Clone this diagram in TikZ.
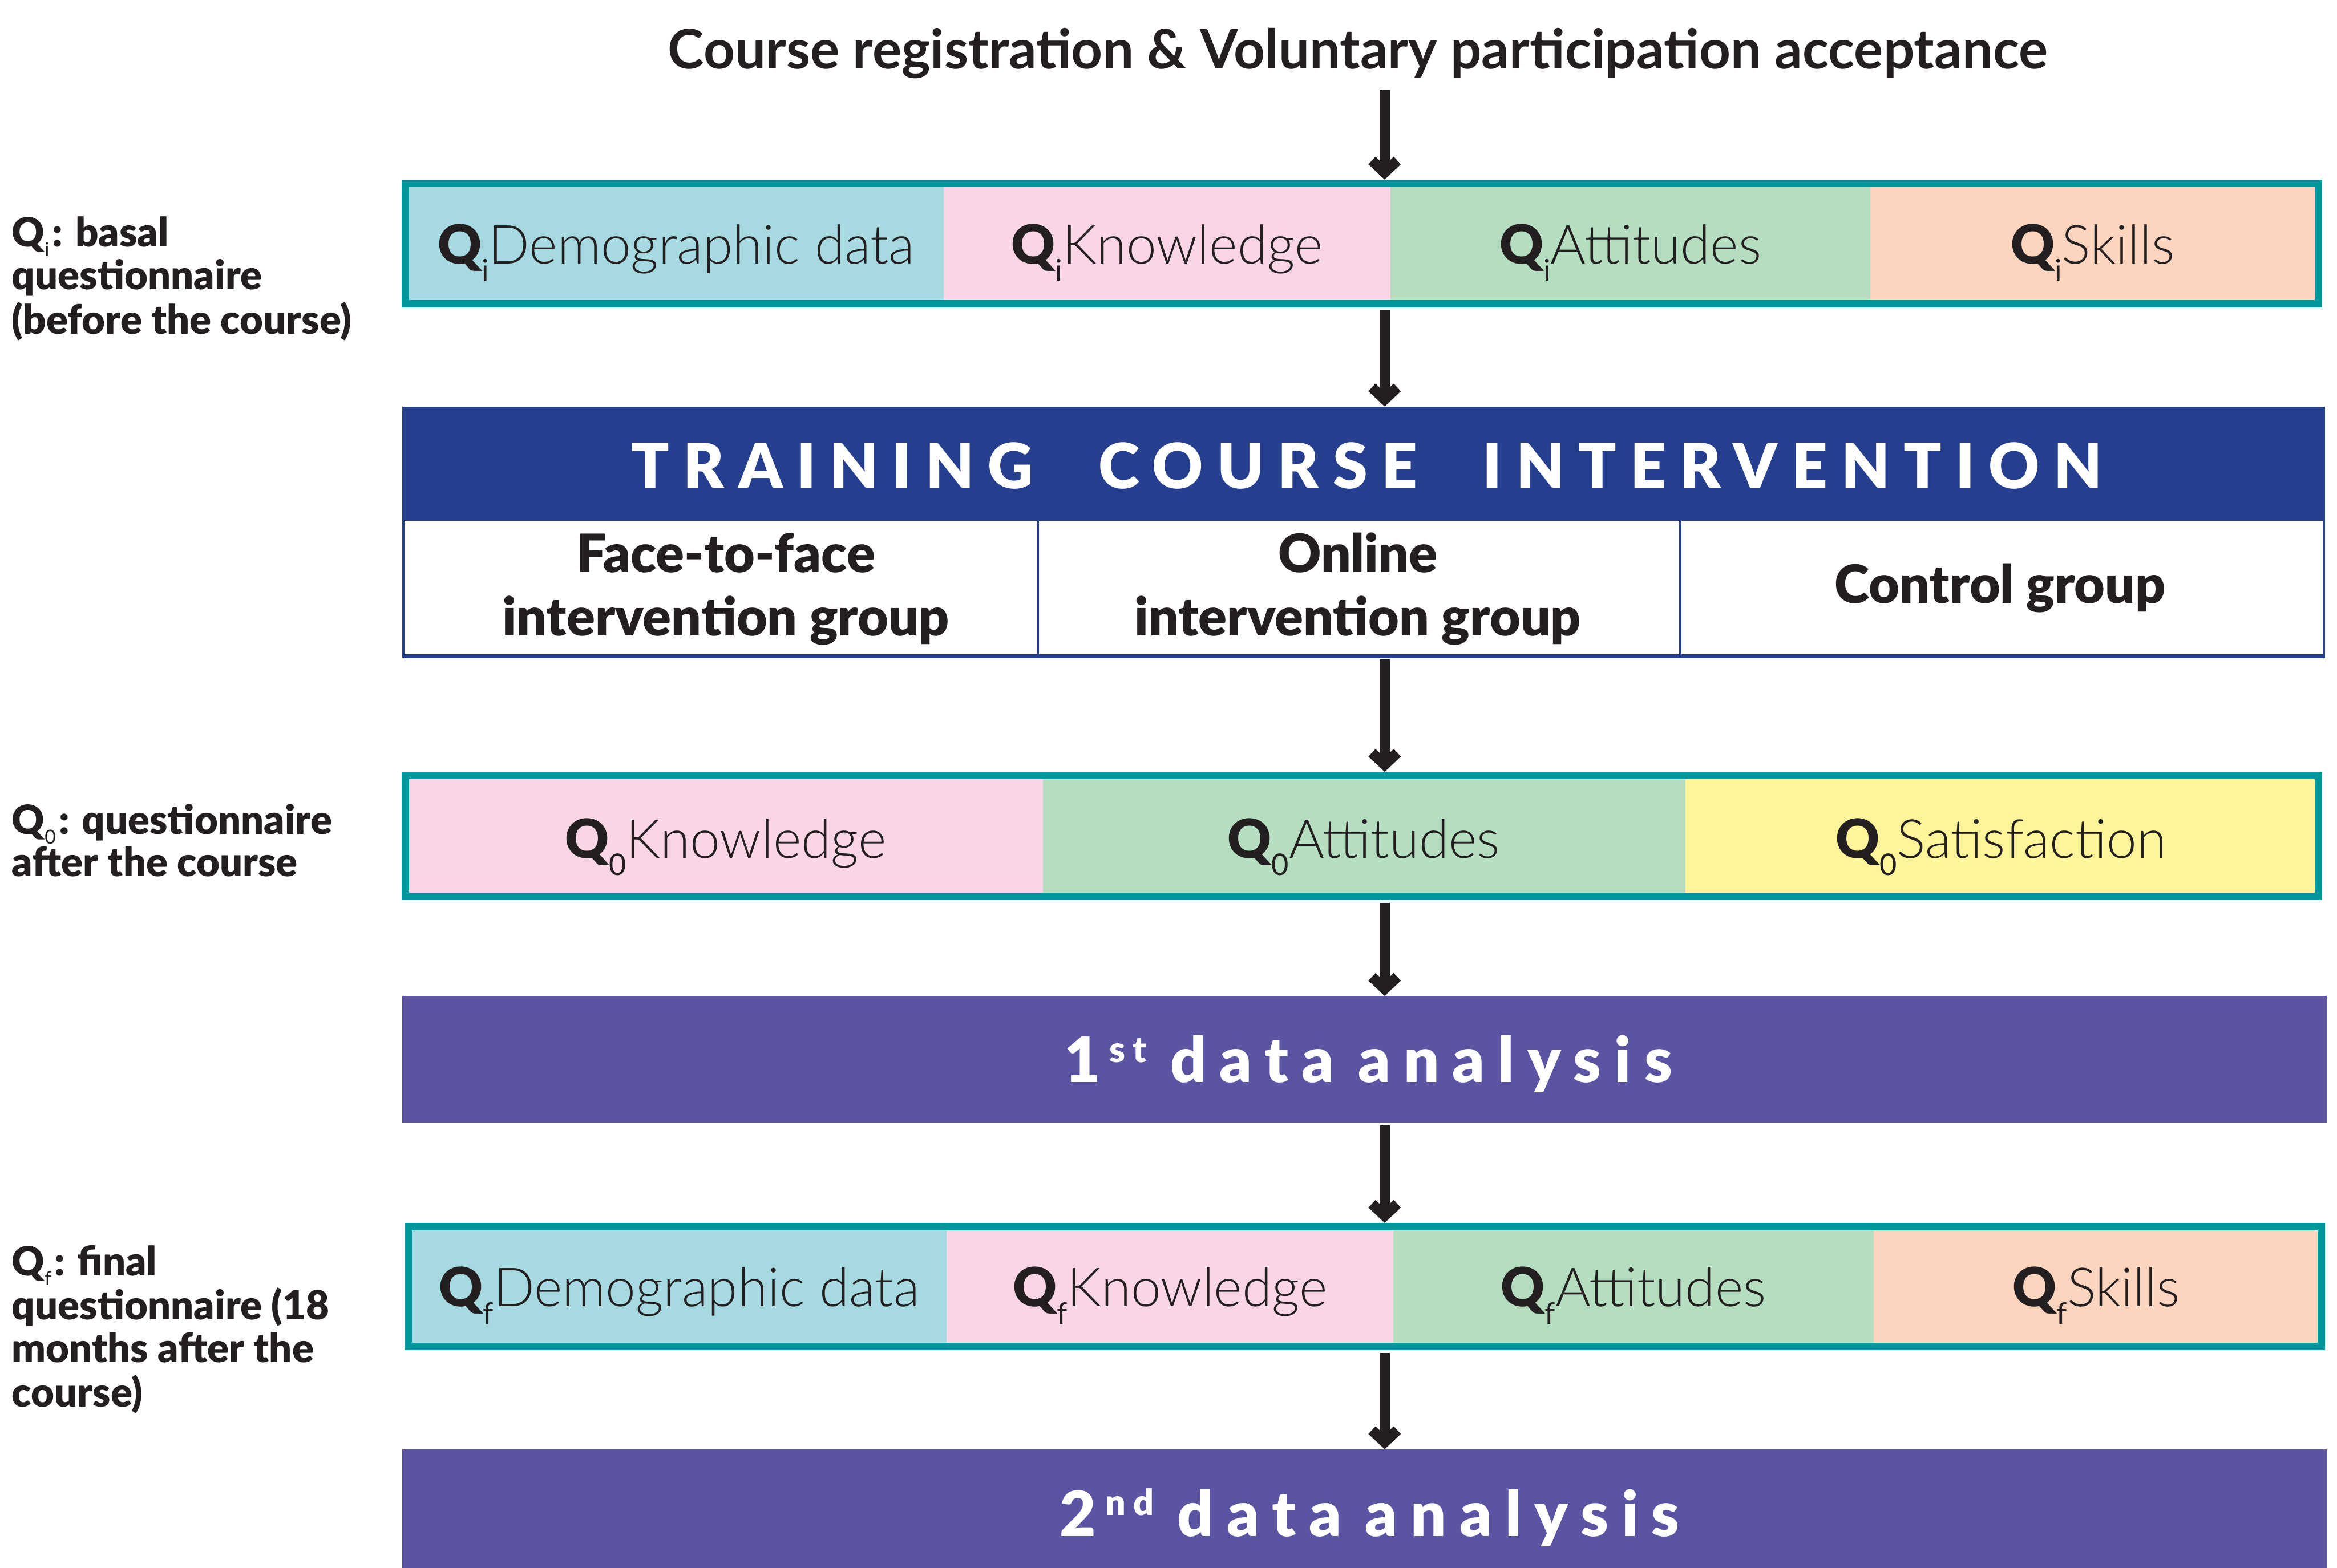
\documentclass[tikz,border=0pt]{standalone}
\usepackage{fontspec}
\setmainfont{Lato}
\IfFontExistsTF{Lato Light}{\newfontfamily\lightfont{Lato Light}}{\def\lightfont{\normalfont}}
\IfFontExistsTF{Lato Black}{\newfontfamily\heavyfont{Lato Black}}{\def\heavyfont{\bfseries}}
\usetikzlibrary{arrows.meta,fit}

\definecolor{ink}{HTML}{231F20}
\definecolor{tealframe}{HTML}{00979C}
\definecolor{cblue}{HTML}{A7DAE0}
\definecolor{cpink}{HTML}{F9D5E6}
\definecolor{cgreen}{HTML}{B5DEC0}
\definecolor{cpeach}{HTML}{FDD5BF}
\definecolor{cyellow}{HTML}{FEF59A}
\definecolor{navy}{HTML}{253F8E}
\definecolor{violet}{HTML}{5A54A3}

\newcommand{\fsz}[2]{\fontsize{#1}{#2}\selectfont}
% Q with a lowered index, followed by a light-weight word (table cells)
\newcommand{\cellq}[2]{{\heavyfont Q}\raisebox{-11.5pt}{\fsz{20}{20}#1}{\lightfont #2}}
% Q with a lowered index inside the bold side labels
\newcommand{\labq}[1]{Q\raisebox{-6.5pt}{\fsz{13}{13}\normalfont #1}\kern2pt}

\begin{document}
\begin{tikzpicture}[x=1pt,y=-1pt,
  every node/.style={inner sep=0pt,outer sep=0pt,text=ink},
  cell/.style={fit={#1},inner sep=0pt,draw=none},
  qframe/.style={fit={#1},inner sep=0pt,draw=tealframe,line width=5pt,outer sep=2.5pt},
  celltext/.style={anchor=base,font=\fsz{36.2}{40}},
  sidelabel/.style={anchor=base west,font=\heavyfont\fsz{27}{28}},
  grouptext/.style={anchor=base,font=\heavyfont\fsz{35.5}{42.5}},
  bandtext/.style={anchor=base,text=white,font=\heavyfont\fsz{42}{42}},
  arr/.style={draw=ink,line width=7pt,
    -{Straight Barb[length=8pt,width=17pt,line cap=butt,line join=miter]}}
]
\useasboundingbox (0,0) rectangle (1568,1052);
\coordinate (ax) at (929,0);

% heading
\node[anchor=base,font=\bfseries\fsz{36.7}{40}] (title) at (911,46)
  {Course registration \& Voluntary participation acceptance};

% basal questionnaire
\node[cell={(269.5,120.6) (633,206.4)},fill=cblue] (qi1) {};
\node[cell={(633,120.6) (933,206.4)},fill=cpink] (qi2) {};
\node[cell={(933,120.6) (1255,206.4)},fill=cgreen] (qi3) {};
\node[cell={(1255,120.6) (1558,206.4)},fill=cpeach] (qi4) {};
\node[qframe={(272,123) (1555.5,203.9)}] (qi) {};
\node[celltext] (qi1t) at (453.7,176.9) {\cellq{i}{Demographic data}};
\node[celltext] (qi2t) at (783,176.9) {\cellq{i}{Knowledge}};
\node[celltext] (qi3t) at (1094,176.9) {\cellq{i}{Attitudes}};
\node[celltext] (qi4t) at (1404,176.9) {\cellq{i}{Skills}};

% training course intervention
\node[cell={(269.8,272.8) (1560,348.8)},fill=navy] (tr) {};
\node[bandtext,font=\heavyfont\fsz{42}{42}\addfontfeature{LetterSpace=22}] (trt) at (917,328)
  {TRAINING\hspace{44pt}COURSE\hspace{44pt}INTERVENTION};
\node[cell={(270.6,348.8) (696.5,440.5)},draw=navy,line width=1.4pt] (g1) {};
\node[cell={(696.5,348.8) (1127.3,440.5)},draw=navy,line width=1.4pt] (g2) {};
\node[cell={(1127.3,348.8) (1559.3,440.5)},draw=navy,line width=1.4pt] (g3) {};
\draw[navy,line width=2.8pt] (g1.south west) -- (g3.south east);
\node[grouptext] (g1t) at (487,384)
  {\begin{tabular}[t]{@{}c@{}}Face-to-face\\intervention group\end{tabular}};
\node[grouptext] (g2t) at (911,384)
  {\begin{tabular}[t]{@{}c@{}}Online\\intervention group\end{tabular}};
\node[grouptext] (g3t) at (1342,404.7) {Control group};

% questionnaire after the course
\node[cell={(269.6,518) (699.6,604)},fill=cpink] (q01) {};
\node[cell={(699.6,518) (1131,604)},fill=cgreen] (q02) {};
\node[cell={(1131,518) (1558,604)},fill=cyellow] (q03) {};
\node[qframe={(272.1,520.5) (1555.5,601.5)}] (q0) {};
\node[celltext] (q01t) at (486.8,576) {\cellq{0}{Knowledge}};
\node[celltext] (q02t) at (915,576) {\cellq{0}{Attitudes}};
\node[celltext] (q03t) at (1342.5,576) {\cellq{0}{Satisfaction}};

% first analysis
\node[cell={(270,668.4) (1561,753.2)},fill=violet] (an1) {};
\node[bandtext,font=\heavyfont\fsz{42}{42}\addfontfeature{LetterSpace=21}] (an1t) at (918,726.5)
  {1\hspace{6pt}\raisebox{13.6pt}{\fsz{24}{24}st}\hspace{16pt}data\hspace{16pt}analysis};

% final questionnaire
\node[cell={(271.4,820.7) (635,906)},fill=cblue] (qf1) {};
\node[cell={(635,820.7) (935,906)},fill=cpink] (qf2) {};
\node[cell={(935,820.7) (1257,906)},fill=cgreen] (qf3) {};
\node[cell={(1257,820.7) (1560,906)},fill=cpeach] (qf4) {};
\node[qframe={(273.9,823.2) (1557.5,903.5)}] (qf) {};
\node[celltext] (qf1t) at (455.8,877) {\cellq{f}{Demographic data}};
\node[celltext] (qf2t) at (785,877) {\cellq{f}{Knowledge}};
\node[celltext] (qf3t) at (1096,877) {\cellq{f}{Attitudes}};
\node[celltext] (qf4t) at (1406.5,877) {\cellq{f}{Skills}};

% second analysis
\node[cell={(270,972.6) (1561,1053)},fill=violet] (an2) {};
\node[bandtext,font=\heavyfont\fsz{42}{42}\addfontfeature{LetterSpace=21}] (an2t) at (919,1031)
  {2\hspace{6pt}\raisebox{14.2pt}{\fsz{24}{24}nd}\hspace{16pt}data\hspace{16pt}analysis};

% side labels
\node[sidelabel] (li) at (8,165.5)
  {\begin{tabular}[t]{@{}l@{}}\labq{i}: basal\\questionnaire\\(before the course)\end{tabular}};
\node[sidelabel] (l0) at (8,559.7)
  {\begin{tabular}[t]{@{}l@{}}\labq{0}: questionnaire\\after the course\end{tabular}};
\node[sidelabel] (lf) at (8,856)
  {\begin{tabular}[t]{@{}l@{}}\labq{f}: final\\questionnaire (18\\months after the\\course)\end{tabular}};

% flow arrows
\draw[arr,shorten <=8pt] (title.south -| ax) -- (qi.north -| ax);
\draw[arr,shorten <=2pt] (qi.south -| ax) -- (tr.north -| ax);
\draw[arr,shorten <=2pt] (g2.south -| ax) -- (q0.north -| ax);
\draw[arr,shorten <=2pt] (q0.south -| ax) -- (an1.north -| ax);
\draw[arr,shorten <=2pt] (an1.south -| ax) -- (qf.north -| ax);
\draw[arr,shorten <=2pt] (qf.south -| ax) -- (an2.north -| ax);
\end{tikzpicture}
\end{document}
